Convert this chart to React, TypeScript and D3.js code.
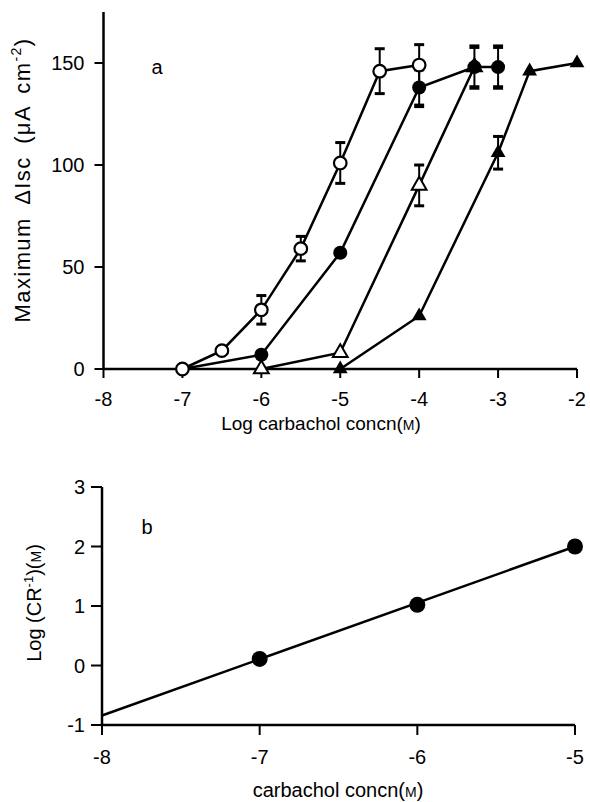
import { scaleLinear, line, symbol, symbolTriangle } from "d3";

// panel a: log carbachol concentration vs maximum ΔIsc
const ticksA_x = [-8, -7, -6, -5, -4, -3, -2];
const ticksA_y = [0, 50, 100, 150];

const openCircleX = [-7, -6.5, -6, -5.5, -5, -4.5, -4];
const openCircleY = [0, 9, 29, 59, 101, 146, 149];
const openCircleErr = [0, 0, 7, 6, 10, 11, 10];

const filledCircleX = [-7, -6, -5, -4, -3.3, -3];
const filledCircleY = [0, 7, 57, 138, 148, 148];
const filledCircleErr = [0, 0, 0, 9, 10, 10];

const openTriX = [-6, -5, -4, -3.3];
const openTriY = [0, 8, 90, 148];
const openTriErr = [0, 0, 10, 0];

const filledTriX = [-5, -4, -3, -2.6, -2];
const filledTriY = [0, 26, 106, 146, 150];
const filledTriErr = [0, 0, 8, 0, 0];

// panel b: Schild-type plot
const ticksB_x = [-8, -7, -6, -5];
const ticksB_y = [-1, 0, 1, 2, 3];
const concB = [-7, -6, -5];
const logCR = [0.11, 1.02, 2.0];
const fitX = [-8, -5];
const fitY = [-0.84, 2.0];

const FONT = "'Liberation Sans', Arial, Helvetica, sans-serif";

const App = () => {
  const xA = scaleLinear().domain([-8, -2]).range([103.5, 577]);
  const yA = scaleLinear().domain([0, 175]).range([369, 12]);
  const xB = scaleLinear().domain([-8, -5]).range([102, 575]);
  const yB = scaleLinear().domain([-1, 3]).range([725, 487]);

  const lineA = line<[number, number]>().x(d => xA(d[0])).y(d => yA(d[1]));
  const lineB = line<[number, number]>().x(d => xB(d[0])).y(d => yB(d[1]));
  const tri = symbol().type(symbolTriangle).size(95)();

  const zip = (xs: number[], ys: number[]) => xs.map((x, i) => [x, ys[i]] as [number, number]);

  const errBars = (xs: number[], ys: number[], es: number[], key: string, capW = 3) =>
    xs.map((x, i) => {
      if (!es[i]) return null;
      const cx = xA(x);
      const hi = yA(ys[i] + es[i]);
      const lo = yA(ys[i] - es[i]);
      return (
        <g key={key + i} stroke="#000">
          <line x1={cx} x2={cx} y1={hi} y2={lo} strokeWidth={2} />
          <line x1={cx - 5} x2={cx + 5} y1={hi} y2={hi} strokeWidth={capW} />
          <line x1={cx - 5} x2={cx + 5} y1={lo} y2={lo} strokeWidth={capW} />
        </g>
      );
    });

  const fs = 20;

  return (
    <svg width={590} height={802} style={{ position: "absolute", left: 0, top: 0, background: "#fff" }} fontFamily={FONT}>
      {/* ---------- panel a ---------- */}
      <g stroke="#000" strokeWidth={2.5}>
        <line x1={xA(-8)} x2={xA(-8)} y1={yA(175)} y2={yA(0)} />
        <line x1={xA(-8)} x2={xA(-2)} y1={yA(0)} y2={yA(0)} />
        {ticksA_y.map(t => (
          <line key={"ay" + t} x1={xA(-8) - 9} x2={xA(-8)} y1={yA(t)} y2={yA(t)} strokeWidth={2} />
        ))}
        {ticksA_x.map(t => (
          <line key={"ax" + t} x1={xA(t)} x2={xA(t)} y1={yA(0)} y2={yA(0) + 9} strokeWidth={2} />
        ))}
      </g>
      <g fontSize={fs} fill="#000">
        {ticksA_y.map(t => (
          <text key={"ayl" + t} x={xA(-8) - 19} y={yA(t) + 7} textAnchor="end">{t}</text>
        ))}
        {ticksA_x.map(t => (
          <text key={"axl" + t} x={xA(t)} y={406} textAnchor="middle">{t}</text>
        ))}
        <text x={321} y={430} textAnchor="middle" fontSize={19}>
          Log carbachol concn<tspan>(</tspan><tspan fontSize={14}>M</tspan><tspan>)</tspan>
        </text>
        <text transform="translate(30,180) rotate(-90)" textAnchor="middle" fontSize={22} letterSpacing={1.4} wordSpacing={5}>
          Maximum ΔIsc (μA cm<tspan fontSize={14} dy={-9}>-2</tspan><tspan dy={9}>)</tspan>
        </text>
        <text x={157} y={74} textAnchor="middle">a</text>
      </g>

      <g fill="none" stroke="#000" strokeWidth={2.5}>
        <path d={lineA(zip(openCircleX, openCircleY)) || ""} />
        <path d={lineA(zip(filledCircleX, filledCircleY)) || ""} />
        <path d={lineA(zip(openTriX, openTriY)) || ""} />
        <path d={lineA(zip(filledTriX, filledTriY)) || ""} />
      </g>

      {errBars(openCircleX, openCircleY, openCircleErr, "eoc")}
      {errBars(openTriX, openTriY, openTriErr, "eot")}
      {errBars(filledTriX, filledTriY, filledTriErr, "eft")}
      {errBars(filledCircleX, filledCircleY, filledCircleErr, "efc", 4.5)}

      {openTriX.map((x, i) => (
        <path key={"ot" + i} d={tri || ""} transform={`translate(${xA(x)},${yA(openTriY[i])})`} fill="#fff" stroke="#000" strokeWidth={2} />
      ))}
      {filledTriX.map((x, i) => (
        <path key={"ft" + i} d={tri || ""} transform={`translate(${xA(x)},${yA(filledTriY[i])})`} fill="#000" />
      ))}
      {openCircleX.map((x, i) => (
        <circle key={"oc" + i} cx={xA(x)} cy={yA(openCircleY[i])} r={6.3} fill="#fff" stroke="#000" strokeWidth={2.2} />
      ))}
      {filledCircleX.map((x, i) =>
        i === 0 ? null : (
          <circle key={"fc" + i} cx={xA(x)} cy={yA(filledCircleY[i])} r={7} fill="#000" />
        )
      )}

      {/* ---------- panel b ---------- */}
      <g stroke="#000" strokeWidth={2.5}>
        <line x1={xB(-8)} x2={xB(-8)} y1={yB(3)} y2={yB(-1)} />
        <line x1={xB(-8)} x2={xB(-5)} y1={yB(-1)} y2={yB(-1)} />
        {ticksB_y.map(t => (
          <line key={"by" + t} x1={xB(-8) - 11} x2={xB(-8)} y1={yB(t)} y2={yB(t)} strokeWidth={2} />
        ))}
        {ticksB_x.map(t => (
          <line key={"bx" + t} x1={xB(t)} x2={xB(t)} y1={yB(-1)} y2={yB(-1) + 10} strokeWidth={2} />
        ))}
      </g>
      <g fontSize={fs} fill="#000">
        {ticksB_y.map(t => (
          <text key={"byl" + t} x={xB(-8) - 17} y={yB(t) + 7} textAnchor="end">{t}</text>
        ))}
        {ticksB_x.map(t => (
          <text key={"bxl" + t} x={xB(t)} y={764} textAnchor="middle">{t}</text>
        ))}
        <text x={338} y={797} textAnchor="middle">
          carbachol concn<tspan>(</tspan><tspan fontSize={14}>M</tspan><tspan>)</tspan>
        </text>
        <text transform="translate(41,603) rotate(-90)" textAnchor="middle">
          Log (CR<tspan fontSize={13} dy={-8}>-1</tspan><tspan dy={8}>)(</tspan><tspan fontSize={14}>M</tspan>)
        </text>
        <text x={147} y={534} textAnchor="middle">b</text>
      </g>
      <path d={lineB(zip(fitX, fitY)) || ""} fill="none" stroke="#000" strokeWidth={2.5} />
      {concB.map((x, i) => (
        <circle key={"bp" + i} cx={xB(x)} cy={yB(logCR[i])} r={8} fill="#000" />
      ))}
    </svg>
  );
};

export default App;
